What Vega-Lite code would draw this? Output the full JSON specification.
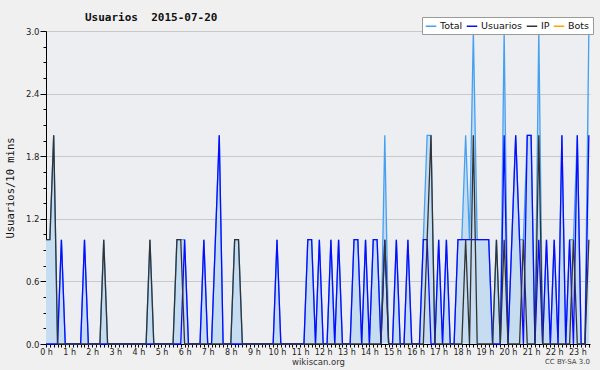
{
"$schema": "https://vega.github.io/schema/vega-lite/v6.json",
"width": 544, "height": 313,
"autosize": {"type": "none"},
"padding": {"left": 46, "top": 31, "right": 10, "bottom": 26},
"background": "#f0f0f0",
"config": {"view": {"fill": "#eceef1", "stroke": null}, "font": "DejaVu Sans"},
"title": {"text": "Usuarios\u00a0 2015-07-20", "anchor": "start", "frame": "group", "dx": 39, "dy": 14, "offset": 8, "font": "DejaVu Sans Mono", "fontSize": 11, "fontWeight": "bold", "color": "#111"},
"data": {"values": [
{"t":0,"Total":1,"Usuarios":0,"IP":1},{"t":1,"Total":1,"Usuarios":0,"IP":1},{"t":2,"Total":2,"Usuarios":0,"IP":2},{"t":3,"Total":0,"Usuarios":0,"IP":0},
{"t":4,"Total":1,"Usuarios":1,"IP":0},{"t":5,"Total":0,"Usuarios":0,"IP":0},{"t":6,"Total":0,"Usuarios":0,"IP":0},{"t":7,"Total":0,"Usuarios":0,"IP":0},
{"t":8,"Total":0,"Usuarios":0,"IP":0},{"t":9,"Total":0,"Usuarios":0,"IP":0},{"t":10,"Total":1,"Usuarios":1,"IP":0},{"t":11,"Total":0,"Usuarios":0,"IP":0},
{"t":12,"Total":0,"Usuarios":0,"IP":0},{"t":13,"Total":0,"Usuarios":0,"IP":0},{"t":14,"Total":0,"Usuarios":0,"IP":0},{"t":15,"Total":1,"Usuarios":0,"IP":1},
{"t":16,"Total":0,"Usuarios":0,"IP":0},{"t":17,"Total":0,"Usuarios":0,"IP":0},{"t":18,"Total":0,"Usuarios":0,"IP":0},{"t":19,"Total":0,"Usuarios":0,"IP":0},
{"t":20,"Total":0,"Usuarios":0,"IP":0},{"t":21,"Total":0,"Usuarios":0,"IP":0},{"t":22,"Total":0,"Usuarios":0,"IP":0},{"t":23,"Total":0,"Usuarios":0,"IP":0},
{"t":24,"Total":0,"Usuarios":0,"IP":0},{"t":25,"Total":0,"Usuarios":0,"IP":0},{"t":26,"Total":0,"Usuarios":0,"IP":0},{"t":27,"Total":1,"Usuarios":0,"IP":1},
{"t":28,"Total":0,"Usuarios":0,"IP":0},{"t":29,"Total":0,"Usuarios":0,"IP":0},{"t":30,"Total":0,"Usuarios":0,"IP":0},{"t":31,"Total":0,"Usuarios":0,"IP":0},
{"t":32,"Total":0,"Usuarios":0,"IP":0},{"t":33,"Total":0,"Usuarios":0,"IP":0},{"t":34,"Total":1,"Usuarios":0,"IP":1},{"t":35,"Total":1,"Usuarios":0,"IP":1},
{"t":36,"Total":1,"Usuarios":1,"IP":0},{"t":37,"Total":0,"Usuarios":0,"IP":0},{"t":38,"Total":0,"Usuarios":0,"IP":0},{"t":39,"Total":0,"Usuarios":0,"IP":0},
{"t":40,"Total":0,"Usuarios":0,"IP":0},{"t":41,"Total":1,"Usuarios":1,"IP":0},{"t":42,"Total":0,"Usuarios":0,"IP":0},{"t":43,"Total":0,"Usuarios":0,"IP":0},
{"t":44,"Total":1,"Usuarios":1,"IP":0},{"t":45,"Total":2,"Usuarios":2,"IP":0},{"t":46,"Total":0,"Usuarios":0,"IP":0},{"t":47,"Total":0,"Usuarios":0,"IP":0},
{"t":48,"Total":0,"Usuarios":0,"IP":0},{"t":49,"Total":1,"Usuarios":0,"IP":1},{"t":50,"Total":1,"Usuarios":0,"IP":1},{"t":51,"Total":0,"Usuarios":0,"IP":0},
{"t":52,"Total":0,"Usuarios":0,"IP":0},{"t":53,"Total":0,"Usuarios":0,"IP":0},{"t":54,"Total":0,"Usuarios":0,"IP":0},{"t":55,"Total":0,"Usuarios":0,"IP":0},
{"t":56,"Total":0,"Usuarios":0,"IP":0},{"t":57,"Total":0,"Usuarios":0,"IP":0},{"t":58,"Total":0,"Usuarios":0,"IP":0},{"t":59,"Total":0,"Usuarios":0,"IP":0},
{"t":60,"Total":1,"Usuarios":1,"IP":0},{"t":61,"Total":0,"Usuarios":0,"IP":0},{"t":62,"Total":0,"Usuarios":0,"IP":0},{"t":63,"Total":0,"Usuarios":0,"IP":0},
{"t":64,"Total":0,"Usuarios":0,"IP":0},{"t":65,"Total":0,"Usuarios":0,"IP":0},{"t":66,"Total":0,"Usuarios":0,"IP":0},{"t":67,"Total":0,"Usuarios":0,"IP":0},
{"t":68,"Total":1,"Usuarios":1,"IP":0},{"t":69,"Total":1,"Usuarios":1,"IP":0},{"t":70,"Total":0,"Usuarios":0,"IP":0},{"t":71,"Total":1,"Usuarios":1,"IP":0},
{"t":72,"Total":0,"Usuarios":0,"IP":0},{"t":73,"Total":0,"Usuarios":0,"IP":0},{"t":74,"Total":1,"Usuarios":1,"IP":0},{"t":75,"Total":0,"Usuarios":0,"IP":0},
{"t":76,"Total":1,"Usuarios":1,"IP":0},{"t":77,"Total":0,"Usuarios":0,"IP":0},{"t":78,"Total":0,"Usuarios":0,"IP":0},{"t":79,"Total":0,"Usuarios":0,"IP":0},
{"t":80,"Total":1,"Usuarios":1,"IP":0},{"t":81,"Total":1,"Usuarios":1,"IP":0},{"t":82,"Total":0,"Usuarios":0,"IP":0},{"t":83,"Total":1,"Usuarios":1,"IP":0},
{"t":84,"Total":0,"Usuarios":0,"IP":0},{"t":85,"Total":1,"Usuarios":1,"IP":0},{"t":86,"Total":1,"Usuarios":1,"IP":0},{"t":87,"Total":0,"Usuarios":0,"IP":0},
{"t":88,"Total":2,"Usuarios":1,"IP":1},{"t":89,"Total":0,"Usuarios":0,"IP":0},{"t":90,"Total":0,"Usuarios":0,"IP":0},{"t":91,"Total":1,"Usuarios":1,"IP":0},
{"t":92,"Total":0,"Usuarios":0,"IP":0},{"t":93,"Total":0,"Usuarios":0,"IP":0},{"t":94,"Total":1,"Usuarios":1,"IP":0},{"t":95,"Total":0,"Usuarios":0,"IP":0},
{"t":96,"Total":0,"Usuarios":0,"IP":0},{"t":97,"Total":0,"Usuarios":0,"IP":0},{"t":98,"Total":1,"Usuarios":1,"IP":0},{"t":99,"Total":2,"Usuarios":1,"IP":1},
{"t":100,"Total":2,"Usuarios":0,"IP":2},{"t":101,"Total":0,"Usuarios":0,"IP":0},{"t":102,"Total":1,"Usuarios":1,"IP":0},{"t":103,"Total":0,"Usuarios":0,"IP":0},
{"t":104,"Total":1,"Usuarios":1,"IP":0},{"t":105,"Total":0,"Usuarios":0,"IP":0},{"t":106,"Total":0,"Usuarios":0,"IP":0},{"t":107,"Total":1,"Usuarios":1,"IP":0},
{"t":108,"Total":1,"Usuarios":1,"IP":0},{"t":109,"Total":2,"Usuarios":1,"IP":1},{"t":110,"Total":1,"Usuarios":1,"IP":0},{"t":111,"Total":3,"Usuarios":1,"IP":2},
{"t":112,"Total":1,"Usuarios":1,"IP":0},{"t":113,"Total":1,"Usuarios":1,"IP":0},{"t":114,"Total":1,"Usuarios":1,"IP":0},{"t":115,"Total":1,"Usuarios":1,"IP":0},
{"t":116,"Total":0,"Usuarios":0,"IP":0},{"t":117,"Total":1,"Usuarios":0,"IP":1},{"t":118,"Total":0,"Usuarios":0,"IP":0},{"t":119,"Total":3,"Usuarios":2,"IP":1},
{"t":120,"Total":0,"Usuarios":0,"IP":0},{"t":121,"Total":1,"Usuarios":1,"IP":0},{"t":122,"Total":2,"Usuarios":2,"IP":0},{"t":123,"Total":1,"Usuarios":1,"IP":0},
{"t":124,"Total":1,"Usuarios":0,"IP":1},{"t":125,"Total":2,"Usuarios":2,"IP":0},{"t":126,"Total":2,"Usuarios":2,"IP":0},{"t":127,"Total":0,"Usuarios":0,"IP":0},
{"t":128,"Total":3,"Usuarios":1,"IP":2},{"t":129,"Total":0,"Usuarios":0,"IP":0},{"t":130,"Total":1,"Usuarios":1,"IP":0},{"t":131,"Total":0,"Usuarios":0,"IP":0},
{"t":132,"Total":1,"Usuarios":1,"IP":0},{"t":133,"Total":0,"Usuarios":0,"IP":0},{"t":134,"Total":2,"Usuarios":2,"IP":0},{"t":135,"Total":0,"Usuarios":0,"IP":0},
{"t":136,"Total":1,"Usuarios":1,"IP":0},{"t":137,"Total":1,"Usuarios":0,"IP":1},{"t":138,"Total":2,"Usuarios":2,"IP":0},{"t":139,"Total":0,"Usuarios":0,"IP":0},
{"t":140,"Total":0,"Usuarios":0,"IP":0},{"t":141,"Total":3,"Usuarios":2,"IP":1}
]},
"layer": [
{"mark": {"type": "area", "color": "#c6ddf1", "interpolate": "linear"},
 "encoding": {
  "x": {"field": "t", "type": "quantitative", "scale": {"domain": [0, 141.3], "nice": false, "zero": false},
   "axis": {"orient": "bottom", "tickCount": 400, "values": [0,1,2,3,4,5,6,7,8,9,10,11,12,13,14,15,16,17,18,19,20,21,22,23,24,25,26,27,28,29,30,31,32,33,34,35,36,37,38,39,40,41,42,43,44,45,46,47,48,49,50,51,52,53,54,55,56,57,58,59,60,61,62,63,64,65,66,67,68,69,70,71,72,73,74,75,76,77,78,79,80,81,82,83,84,85,86,87,88,89,90,91,92,93,94,95,96,97,98,99,100,101,102,103,104,105,106,107,108,109,110,111,112,113,114,115,116,117,118,119,120,121,122,123,124,125,126,127,128,129,130,131,132,133,134,135,136,137,138,139,140,141],
    "labelExpr": "datum.value % 6 == 0 ? (datum.value / 6) + ' h' : ''",
    "tickSize": 3, "tickColor": "#000", "domainColor": "#000", "grid": false,
    "labelFontSize": 8, "labelColor": "#222", "labelPadding": 1, "labelOverlap": false, "labelFlush": false, "labelBound": false,
    "title": "wikiscan.org", "titleFontSize": 8.5, "titleFontWeight": "normal", "titleColor": "#333", "titlePadding": 1}},
  "y": {"field": "Total", "type": "quantitative", "scale": {"domain": [0, 3], "nice": false},
   "axis": {"orient": "left", "tickCount": 100, "values": [0,0.15,0.3,0.45,0.6,0.75,0.9,1.05,1.2,1.35,1.5,1.65,1.8,1.95,2.1,2.25,2.4,2.55,2.7,2.85,3],
    "labelExpr": "round(datum.value*100) % 60 == 0 ? format(datum.value, '.1f') : ''",
    "tickSize": {"condition": {"test": "round(datum.value*100) % 60 == 0", "value": 6}, "value": 3},
    "gridOpacity": {"condition": {"test": "round(datum.value*100) % 60 == 0 && datum.value > 0", "value": 1}, "value": 0},
    "grid": true, "gridColor": "#c9c9c9", "tickColor": "#000", "domainColor": "#000", "labelOverlap": false,
    "labelFontSize": 8.5, "labelColor": "#222", "labelPadding": 1,
    "title": "Usuarios/10 mins", "titleFont": "DejaVu Sans Mono", "titleFontSize": 10.5, "titleFontWeight": "normal", "titleColor": "#111", "titlePadding": 10}}
 }},
{"mark": {"type": "line", "strokeWidth": 1.3},
 "encoding": {
  "x": {"field": "t", "type": "quantitative"},
  "y": {"field": "Total", "type": "quantitative"},
  "color": {"datum": "Total", "scale": {"domain": ["Total", "Usuarios", "IP", "Bots"], "range": ["#45a0f0", "#0a0aff", "#333333", "#ffa500"]},
   "legend": {"orient": "none", "legendX": 376, "legendY": -14, "direction": "horizontal", "title": null,
    "fillColor": "#ffffff", "strokeColor": "#9a9a9a", "padding": 3, "symbolType": "stroke", "symbolSize": 110, "symbolStrokeWidth": 1.5,
    "labelFont": "DejaVu Sans", "labelFontSize": 9.5, "labelColor": "#111", "labelOffset": 3, "columnPadding": 0, "rowPadding": 0}}
 }},
{"mark": {"type": "line", "strokeWidth": 1.3},
 "encoding": {
  "x": {"field": "t", "type": "quantitative"},
  "y": {"field": "Usuarios", "type": "quantitative"},
  "color": {"datum": "Usuarios"}
 }},
{"mark": {"type": "line", "strokeWidth": 1.3},
 "encoding": {
  "x": {"field": "t", "type": "quantitative"},
  "y": {"field": "IP", "type": "quantitative"},
  "color": {"datum": "IP"}
 }},
{"data": {"values": [{"note": "CC BY-SA 3.0"}]},
 "mark": {"type": "text", "align": "right", "baseline": "middle", "fontSize": 7, "color": "#444"},
 "encoding": {
  "x": {"datum": 141.3, "type": "quantitative"},
  "y": {"datum": -0.17, "type": "quantitative"},
  "text": {"field": "note"}
 }}
]
}
